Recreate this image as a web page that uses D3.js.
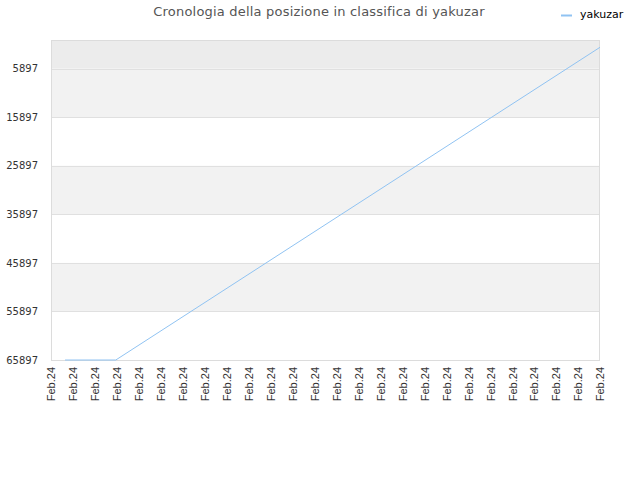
<!DOCTYPE html>
<meta charset="utf-8">
<style>
body { margin: 0; background: #fff; }
.grid line { stroke: #e0e0e0; }
.axisY text { font-family: "DejaVu Sans"; font-size: 10px; fill: #333; }
.axisX text { font-family: "Liberation Sans"; font-size: 11px; fill: #333; }
</style>
<script src="https://cdn.jsdelivr.net/npm/d3@7"></script>
<body>
<script>
// x positions are in tick units (tick 0 = first "Feb.24" label)
const tickLabels = ['Feb.24','Feb.24','Feb.24','Feb.24','Feb.24','Feb.24','Feb.24','Feb.24','Feb.24',
  'Feb.24','Feb.24','Feb.24','Feb.24','Feb.24','Feb.24','Feb.24','Feb.24','Feb.24','Feb.24',
  'Feb.24','Feb.24','Feb.24','Feb.24','Feb.24','Feb.24','Feb.24'];
const pointX = [0.64, 2.95, 25];
const rank = [65897, 65897, 1500];
const yTicks = [5897, 15897, 25897, 35897, 45897, 55897, 65897];

const margin = { top: 40, right: 40, bottom: 120, left: 51 };
const width = 640 - margin.left - margin.right;
const height = 480 - margin.top - margin.bottom;

const svg = d3.select('body')
  .append('svg')
    .attr('width', 640)
    .attr('height', 480);

const g = svg.append('g')
    .attr('transform', `translate(${margin.left}, ${margin.top})`);

const xScale = d3.scaleLinear()
  .domain([0, tickLabels.length - 1])
  .range([0, width]);

const yScale = d3.scaleLinear()
  .domain([0, 65897])
  .range([0, height]);

// bands between the y ticks
const bandEdges = [0].concat(yTicks);
const bandColors = ['#ececec', '#f2f2f2', '#fff', '#f2f2f2', '#fff', '#f2f2f2', '#fff'];
g.selectAll('rect.band')
  .data(d3.pairs(bandEdges))
  .enter()
  .append('rect')
    .attr('class', 'band')
    .attr('x', 0)
    .attr('width', width)
    .attr('y', d => yScale(d[0]))
    .attr('height', d => yScale(d[1]) - yScale(d[0]))
    .style('fill', (d, i) => bandColors[i]);

g.append('g')
  .attr('class', 'grid')
  .selectAll('line')
  .data(yTicks)
  .enter()
  .append('line')
    .attr('x1', 0)
    .attr('x2', width)
    .attr('y1', d => Math.round(yScale(d)) + 0.5)
    .attr('y2', d => Math.round(yScale(d)) + 0.5);

g.append('rect')
  .attr('x', 0.5)
  .attr('y', 0.5)
  .attr('width', width - 1)
  .attr('height', height)
  .style('fill', 'none')
  .style('stroke', '#dcdcdc');

// y axis
const yAxis = g.append('g')
  .attr('class', 'axisY')
  .call(d3.axisLeft(yScale).tickValues(yTicks).tickFormat(d3.format('d')).tickSize(0).tickPadding(13));
yAxis.select('.domain').remove();

// x axis
const xAxis = g.append('g')
  .attr('class', 'axisX')
  .attr('transform', `translate(0, ${height})`)
  .call(d3.axisBottom(xScale)
    .tickValues(d3.range(tickLabels.length))
    .tickFormat(i => tickLabels[i])
    .tickSize(0));
xAxis.select('.domain').remove();
xAxis.selectAll('text')
  .attr('transform', 'rotate(-90)')
  .attr('text-anchor', 'end')
  .attr('x', -7)
  .attr('y', 0)
  .attr('dy', '0.35em');

// line
const line = d3.line()
  .x((d, i) => xScale(pointX[i]))
  .y(d => yScale(d));

g.append('path')
  .datum(rank)
  .attr('d', line)
  .style('fill', 'none')
  .style('stroke', '#90c3f2')
  .style('stroke-width', 1);

// title
svg.append('text')
  .attr('x', 319)
  .attr('y', 16)
  .attr('text-anchor', 'middle')
  .style('font-family', 'DejaVu Sans')
  .style('font-size', '13px')
  .style('letter-spacing', '0.2px')
  .style('fill', '#555')
  .text('Cronologia della posizione in classifica di yakuzar');

// legend
svg.append('line')
  .attr('x1', 561).attr('x2', 572)
  .attr('y1', 15.5).attr('y2', 15.5)
  .style('stroke', '#90c3f2')
  .style('stroke-width', 2);
svg.append('text')
  .attr('x', 580)
  .attr('y', 18)
  .style('font-family', 'DejaVu Sans')
  .style('font-size', '11px')
  .style('fill', '#000')
  .text('yakuzar');
</script>
</body>
</html>
